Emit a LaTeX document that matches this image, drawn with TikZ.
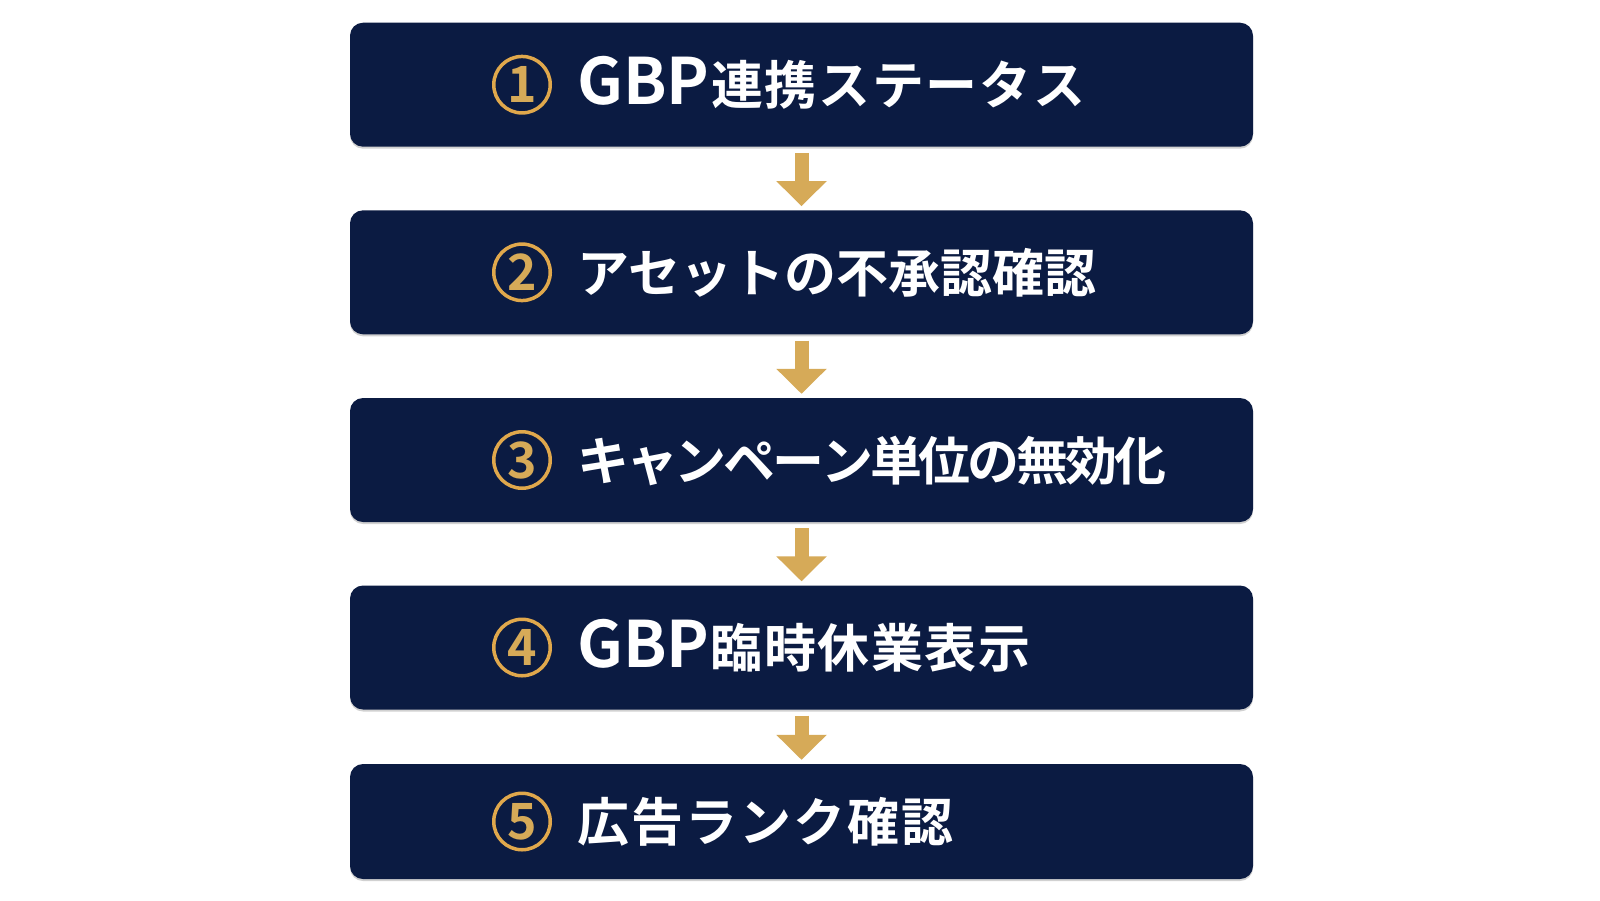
\documentclass[tikz,border=0pt]{standalone}
\usepackage{fontspec}
\newfontfamily\jp{Noto Sans CJK JP}[BoldFont={* Bold}]
\usetikzlibrary{arrows.meta,shadows}
\definecolor{navy}{RGB}{11,27,66}
\definecolor{gold}{RGB}{214,170,88}
\definecolor{ring}{RGB}{224,168,76}
\newdimen\trk
\def\trkloop#1{\ifx\relax#1\else#1\kern\trk\expandafter\trkloop\fi}
\newcommand{\tracked}[2]{\trk=#1\relax\trkloop#2\relax}
\newcommand{\bigL}[1]{{\fontsize{64}{64}\selectfont #1}}
\begin{document}
\begin{tikzpicture}[x=1pt,y=-1pt,
  stepbox/.style={rectangle, rounded corners=13pt, fill=navy, minimum width=903pt,
    minimum height=124pt, inner sep=0pt,
    drop shadow={shadow xshift=0pt, shadow yshift=-2pt, opacity=0.18, fill=black}},
  numring/.style={circle, draw=ring, line width=3.5pt, minimum size=56.5pt, inner sep=0pt,
    text=gold, font=\jp\bfseries\fontsize{50}{50}\selectfont},
  steptext/.style={anchor=base west, inner sep=0pt, text=white,
    font=\jp\bfseries\fontsize{52}{60}\selectfont},
  flow/.style={draw=gold, line width=14pt, -{Triangle[width=49pt,length=25pt]},
    shorten <=6pt, shorten >=4pt}]
\useasboundingbox (0,0) rectangle (1600,900);
\fill[white] (0,0) rectangle (1600,900);
% boxes
\node[stepbox] (b1) at (801.5,84.7) {};
\node[stepbox] (b2) at (801.5,272.3) {};
\node[stepbox] (b3) at (801.5,460) {};
\node[stepbox] (b4) at (801.5,647.5) {};
\node[stepbox, minimum height=115pt] (b5) at (801.5,821.5) {};
% numbers
\node[numring] (n1) at (522,84.7) {1};
\node[numring] (n2) at (522,272.3) {2};
\node[numring] (n3) at (522,460) {3};
\node[numring] (n4) at (522,647.5) {4};
\node[numring] (n5) at (522,821.5) {5};
% texts
\node[steptext] (t1) at (577,104.7) {\bigL{GBP}\kern1.7pt\tracked{1.7pt}{連携ステータス}};
\node[steptext] (t2) at (577,292.3) {アセットの不承認確認};
\node[steptext] (t3) at (577,480) {\tracked{-3.2pt}{キャンペーン単位の無効化}};
\node[steptext] (t4) at (577,667.5) {\bigL{GBP}\kern1.5pt\tracked{1.5pt}{臨時休業表示}};
\node[steptext] (t5) at (577,841.5) {\tracked{2pt}{広告ランク確認}};
% arrows
\draw[flow] (b1.south) -- (b2.north);
\draw[flow] (b2.south) -- (b3.north);
\draw[flow] (b3.south) -- (b4.north);
\draw[flow] (b4.south) -- (b5.north);
\end{tikzpicture}
\end{document}
